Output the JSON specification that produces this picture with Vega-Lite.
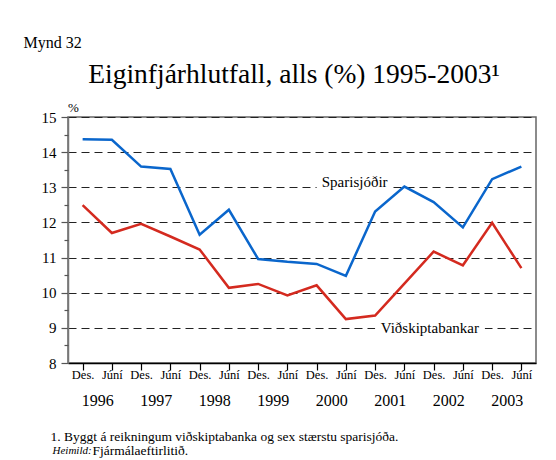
{
  "$schema": "https://vega.github.io/schema/vega-lite/v6.json",
  "width": 468,
  "height": 246,
  "autosize": "none",
  "padding": {"left": 68, "top": 117, "right": 20, "bottom": 97},
  "background": "white",
  "config": {
    "font": "Liberation Serif, Times New Roman, serif",
    "view": {"stroke": "#666", "strokeWidth": 1.5},
    "axis": {"labelFont": "Liberation Serif, Times New Roman, serif", "titleFont": "Liberation Serif, Times New Roman, serif", "labelColor": "#000", "titleColor": "#000", "titleFontWeight": "normal"},
    "text": {"font": "Liberation Serif, Times New Roman, serif"}
  },
  "title": {
    "text": "Eiginfjárhlutfall, alls (%) 1995-2003¹",
    "font": "Liberation Serif, Times New Roman, serif",
    "fontSize": 27.5,
    "fontWeight": "normal",
    "color": "#000",
    "anchor": "middle",
    "frame": "group",
    "dx": -8,
    "offset": -54
  },
  "datasets": {
    "series": [
      {"i": 0, "s": "Sparisjóðir", "v": 14.37},
      {"i": 1, "s": "Sparisjóðir", "v": 14.35},
      {"i": 2, "s": "Sparisjóðir", "v": 13.59},
      {"i": 3, "s": "Sparisjóðir", "v": 13.52},
      {"i": 4, "s": "Sparisjóðir", "v": 11.65},
      {"i": 5, "s": "Sparisjóðir", "v": 12.36},
      {"i": 6, "s": "Sparisjóðir", "v": 10.96},
      {"i": 7, "s": "Sparisjóðir", "v": 10.88},
      {"i": 8, "s": "Sparisjóðir", "v": 10.82},
      {"i": 9, "s": "Sparisjóðir", "v": 10.48},
      {"i": 10, "s": "Sparisjóðir", "v": 12.31},
      {"i": 11, "s": "Sparisjóðir", "v": 13.02},
      {"i": 12, "s": "Sparisjóðir", "v": 12.58},
      {"i": 13, "s": "Sparisjóðir", "v": 11.86},
      {"i": 14, "s": "Sparisjóðir", "v": 13.23},
      {"i": 15, "s": "Sparisjóðir", "v": 13.59},
      {"i": 0, "s": "Viðskiptabankar", "v": 12.49},
      {"i": 1, "s": "Viðskiptabankar", "v": 11.7},
      {"i": 2, "s": "Viðskiptabankar", "v": 11.96},
      {"i": 3, "s": "Viðskiptabankar", "v": 11.6},
      {"i": 4, "s": "Viðskiptabankar", "v": 11.23},
      {"i": 5, "s": "Viðskiptabankar", "v": 10.14},
      {"i": 6, "s": "Viðskiptabankar", "v": 10.25},
      {"i": 7, "s": "Viðskiptabankar", "v": 9.92},
      {"i": 8, "s": "Viðskiptabankar", "v": 10.21},
      {"i": 9, "s": "Viðskiptabankar", "v": 9.25},
      {"i": 10, "s": "Viðskiptabankar", "v": 9.35},
      {"i": 11, "s": "Viðskiptabankar", "v": 10.26},
      {"i": 12, "s": "Viðskiptabankar", "v": 11.17},
      {"i": 13, "s": "Viðskiptabankar", "v": 10.78},
      {"i": 14, "s": "Viðskiptabankar", "v": 11.99},
      {"i": 15, "s": "Viðskiptabankar", "v": 10.7}
    ],
    "years": [
      {"p": 0.5, "year": "1996"},
      {"p": 2.5, "year": "1997"},
      {"p": 4.5, "year": "1998"},
      {"p": 6.5, "year": "1999"},
      {"p": 8.5, "year": "2000"},
      {"p": 10.5, "year": "2001"},
      {"p": 12.5, "year": "2002"},
      {"p": 14.5, "year": "2003"}
    ],
    "labels": [
      {"x": 9.3, "y": 13.16, "x1": 8.0, "x2": 10.6, "y1": 12.88, "y2": 13.42, "t": "Sparisjóðir"},
      {"x": 11.87, "y": 8.99, "x1": 10.0, "x2": 13.75, "y1": 8.72, "y2": 9.26, "t": "Viðskiptabankar"}
    ]
  },
  "resolve": {"axis": {"x": "independent", "y": "independent"}},
  "layer": [
    {
      "data": {"name": "labels"},
      "mark": {"type": "rect", "color": "white"},
      "encoding": {
        "x": {"field": "x1", "type": "quantitative", "scale": {"domain": [-0.5, 15.5], "nice": false, "zero": false}, "axis": null},
        "x2": {"field": "x2"},
        "y": {"field": "y1", "type": "quantitative", "scale": {"domain": [8, 15], "nice": false, "zero": false}, "axis": null},
        "y2": {"field": "y2"}
      }
    },
    {
      "data": {"name": "series"},
      "mark": {"type": "line", "strokeWidth": 2.5, "clip": true},
      "encoding": {
        "x": {
          "field": "i", "type": "quantitative",
          "scale": {"domain": [-0.5, 15.5], "nice": false, "zero": false},
          "axis": {
            "orient": "bottom",
            "values": [0,1,2,3,4,5,6,7,8,9,10,11,12,13,14,15],
            "labelExpr": "datum.value % 2 == 0 ? 'Des.' : 'Júní'",
            "labelFontSize": 12.5,
            "labelBaseline": "middle",
            "labelPadding": 4,
            "labelFlush": false,
            "labelOverlap": false,
            "tickSize": 7,
            "tickColor": "#000",
            "tickWidth": 1.2,
            "domainColor": "#000",
            "domainWidth": 1.5,
            "grid": false,
            "title": "Heimild:",
            "titleFontStyle": "italic",
            "titleFontSize": 11,
            "titleAlign": "left",
            "titleBaseline": "middle",
            "titleAnchor": null,
            "titleX": -16,
            "titleY": 87
          }
        },
        "y": {
          "field": "v", "type": "quantitative",
          "scale": {"domain": [8, 15], "nice": false, "zero": false},
          "axis": {
            "orient": "left",
            "values": [8,9,10,11,12,13,14,15],
            "labelFontSize": 15,
            "labelPadding": 5,
            "tickSize": 7,
            "tickColor": "#555",
            "tickWidth": 1.2,
            "domainColor": "#777",
            "domainWidth": 1.5,
            "grid": true,
            "gridColor": "#222",
            "gridDash": [8, 5],
            "gridWidth": 1,
            "title": "%",
            "titleFontSize": 13,
            "titleAngle": 0,
            "titleAlign": "center",
            "titleBaseline": "middle",
            "titleAnchor": null,
            "titleX": 5,
            "titleY": -10
          }
        },
        "color": {
          "field": "s", "type": "nominal",
          "scale": {"domain": ["Sparisjóðir", "Viðskiptabankar"], "range": ["#0a66cc", "#d42a1f"]},
          "legend": null
        }
      }
    },
    {
      "data": {"name": "years"},
      "mark": {"type": "point", "opacity": 0},
      "encoding": {
        "x": {
          "field": "p", "type": "quantitative",
          "scale": {"domain": [-0.5, 15.5], "nice": false, "zero": false},
          "axis": {
            "orient": "bottom",
            "values": [0.5, 2.5, 4.5, 6.5, 8.5, 10.5, 12.5, 14.5],
            "labelExpr": "floor(datum.value / 2) + 1996",
            "labelFontSize": 16,
            "labelBaseline": "middle",
            "labelPadding": 37,
            "labelFlush": false,
            "labelOverlap": false,
            "ticks": false,
            "tickSize": 0,
            "domain": false,
            "grid": false,
            "title": "1. Byggt á reikningum viðskiptabanka og sex stærstu sparisjóða.",
            "titleFontSize": 13.5,
            "titleAlign": "left",
            "titleBaseline": "middle",
            "titleAnchor": null,
            "titleX": -18,
            "titleY": 73
          }
        }
      }
    },
    {
      "data": {"name": "labels"},
      "mark": {"type": "text", "fontSize": 15, "color": "#000", "baseline": "middle", "align": "center"},
      "encoding": {
        "x": {
          "field": "x", "type": "quantitative",
          "scale": {"domain": [-0.5, 15.5], "nice": false, "zero": false},
          "axis": {
            "orient": "top",
            "labels": false,
            "ticks": false,
            "domain": false,
            "grid": false,
            "title": "Mynd 32",
            "titleFontSize": 16,
            "titleAlign": "left",
            "titleBaseline": "middle",
            "titleAnchor": null,
            "titleX": -45,
            "titleY": -75
          }
        },
        "y": {
          "field": "y", "type": "quantitative",
          "scale": {"domain": [8, 15], "nice": false, "zero": false},
          "axis": {
            "orient": "left",
            "values": [8.5, 9.5, 10.5, 11.5, 12.5, 13.5, 14.5],
            "labels": false,
            "tickSize": 4,
            "tickColor": "#555",
            "tickWidth": 1.2,
            "domain": false,
            "grid": false,
            "title": "Fjármálaeftirlitið.",
            "titleFontSize": 13.5,
            "titleAngle": 0,
            "titleAlign": "left",
            "titleBaseline": "middle",
            "titleAnchor": null,
            "titleX": 24,
            "titleY": 333
          }
        },
        "text": {"field": "t"}
      }
    }
  ]
}
